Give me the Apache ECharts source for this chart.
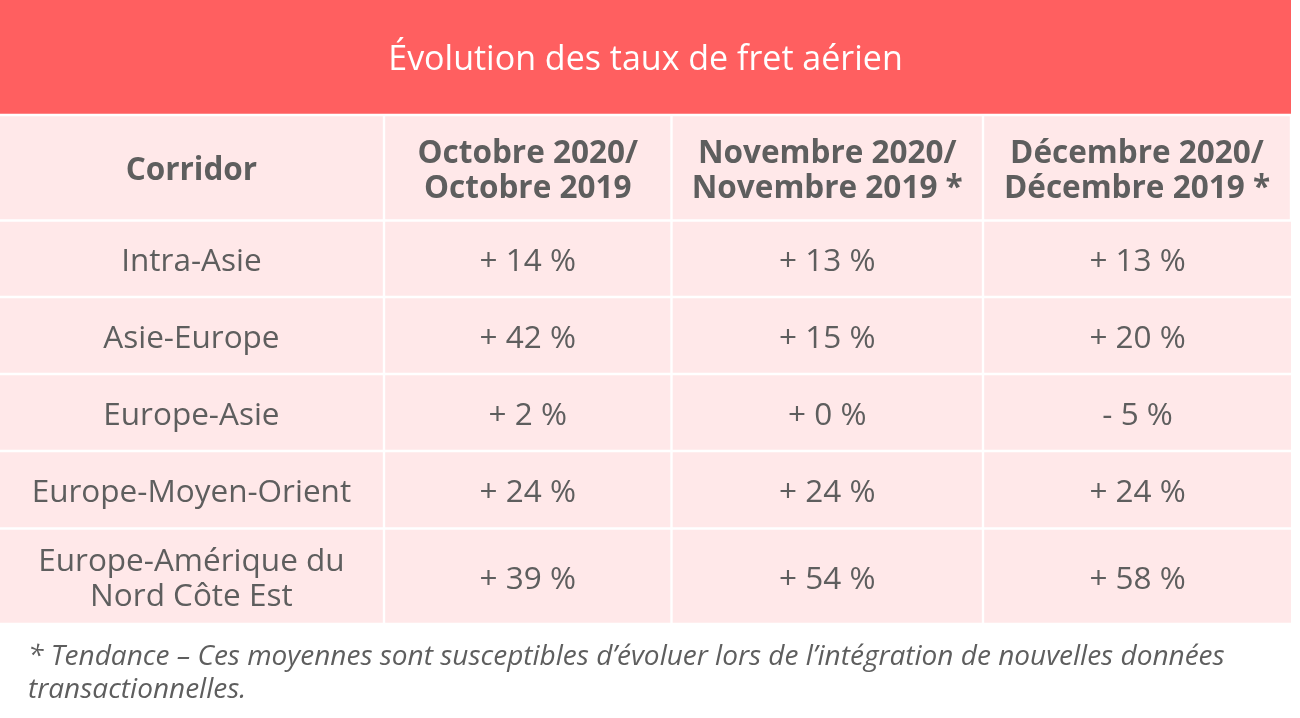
<!DOCTYPE html>
<html>
<head>
<meta charset="utf-8">
<script src="https://cdn.jsdelivr.net/npm/echarts@6/dist/echarts.min.js"></script>
<style>html,body{margin:0;padding:0;background:#fff}#c{width:1300px;height:718px}</style>
</head>
<body>
<div id="c"></div>
<script>
// ---- data ----
const tableTitle = 'Évolution des taux de fret aérien';
const headers = ['Corridor', 'Octobre 2020/\nOctobre 2019', 'Novembre 2020/\nNovembre 2019 *', 'Décembre 2020/\nDécembre 2019 *'];
const corridors = ['Intra-Asie', 'Asie-Europe', 'Europe-Asie', 'Europe-Moyen-Orient', 'Europe-Amérique du\nNord Côte Est'];
const octobre = [14, 42, 2, 24, 39];
const novembre = [13, 15, 0, 24, 54];
const decembre = [13, 20, -5, 24, 58];
const footnote = '* Tendance – Ces moyennes sont susceptibles d’évoluer lors de l’intégration de nouvelles données\ntransactionnelles.';

// ---- layout ----
const colEdges = [0, 384, 671.5, 983, 1291];
const rowEdges = [0, 115, 220.5, 297, 374, 451, 528.5, 624];
const GAP = 1.2;
const FONT = "'Open Sans', 'Noto Sans', sans-serif";
const TEXT = '#5e5e5e';

function fmt(v) { return (v < 0 ? '- ' : '+ ') + Math.abs(v) + ' %'; }

const cells = [];
// title band
cells.push({ value: [colEdges[0], colEdges[4], rowEdges[0], rowEdges[1] - GAP], text: tableTitle, kind: 'title' });
// header
headers.forEach((h, i) => cells.push({ value: [colEdges[i] + (i ? GAP : 0), colEdges[i + 1] - GAP, rowEdges[1] + GAP, rowEdges[2] - GAP], text: h, kind: 'header' }));
// body
const cols = [corridors, octobre.map(fmt), novembre.map(fmt), decembre.map(fmt)];
corridors.forEach((c, r) => {
  cols.forEach((col, i) => {
    cells.push({ value: [colEdges[i] + (i ? GAP : 0), colEdges[i + 1] - (i === 3 ? 0 : GAP), rowEdges[r + 2] + GAP, rowEdges[r + 3] - GAP], text: col[r], kind: 'body' });
  });
});

function renderItem(params, api) {
  const x0 = api.value(0), x1 = api.value(1), y0 = api.value(2), y1 = api.value(3);
  const p0 = api.coord([x0, y0]);
  const p1 = api.coord([x1, y1]);
  const cell = cells[params.dataIndex];
  const isTitle = cell.kind === 'title';
  const isHeader = cell.kind === 'header';
  return {
    type: 'group',
    children: [
      {
        type: 'rect',
        shape: { x: p0[0], y: p0[1], width: p1[0] - p0[0], height: p1[1] - p0[1] },
        style: { fill: isTitle ? '#ff5f60' : '#ffe8e9' }
      },
      {
        type: 'text',
        x: (p0[0] + p1[0]) / 2,
        y: (p0[1] + p1[1]) / 2 + 3.5,
        style: {
          text: cell.text,
          fill: isTitle ? '#ffffff' : TEXT,
          font: (isHeader ? 'bold ' : '') + (isTitle ? 34 : 31.5) + 'px ' + FONT,
          align: 'center',
          verticalAlign: 'middle',
          lineHeight: 35
        }
      }
    ]
  };
}

const chart = echarts.init(document.getElementById('c'));
chart.setOption({
  animation: false,
  backgroundColor: '#ffffff',
  title: {
    text: footnote,
    left: 23,
    top: 636,
    textStyle: { fontFamily: FONT, fontStyle: 'italic', fontWeight: 'normal', fontSize: 28, color: TEXT, lineHeight: 33 }
  },
  grid: { left: 0, top: 0, width: 1291, height: 624 },
  xAxis: { type: 'value', min: 0, max: 1291, show: false },
  yAxis: { type: 'value', min: 0, max: 624, inverse: true, show: false },
  series: [{
    type: 'custom',
    renderItem: renderItem,
    data: cells,
    encode: { x: [0, 1], y: [2, 3] },
    clip: false
  }]
});
</script>
</body>
</html>
